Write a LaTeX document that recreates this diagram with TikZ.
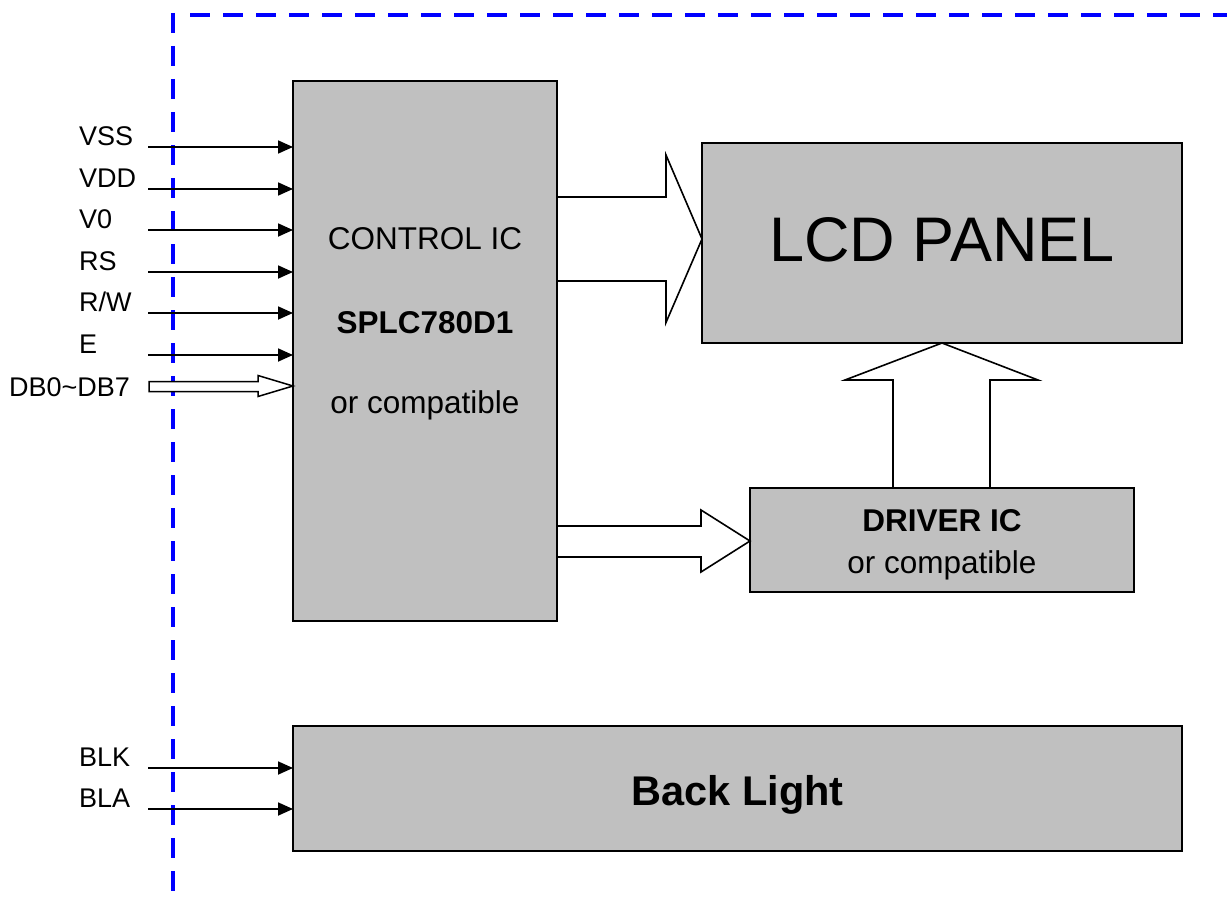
\documentclass[tikz,border=0pt]{standalone}
\usepackage{fontspec}
\setmainfont{Liberation Sans}
\usetikzlibrary{arrows.meta}
\begin{document}
\begin{tikzpicture}[x=1pt,y=-1pt,
  blk/.style={draw=black,line width=2pt,fill=boxgray,outer sep=0pt,inner sep=0pt,anchor=north west},
  sig/.style={line width=1.8pt,-{Triangle[length=15pt,width=13pt]}},
  fat/.style={draw=black,line width=1.6pt,fill=white,line join=miter},
  lbl/.style={anchor=base west,inner sep=0pt,font=\fontsize{27}{30}\selectfont},
  btxt/.style={anchor=base,inner sep=0pt,font=\fontsize{31.5}{34}\selectfont},
  edge/.style={line width=2pt,line cap=rect},
  bound/.style={draw=blue,line width=4pt,dash pattern=on 20pt off 13pt}]
\definecolor{boxgray}{RGB}{192,192,192}
\useasboundingbox (0,0) rectangle (1227,899);
% boundary
\draw[bound] (173,13) -- (173,899);
\draw[bound] (190,15) -- (1227,15);
% boxes
\node[blk,minimum width=264pt,minimum height=540pt] (ctrl) at (293,81) {};
\node[blk,minimum width=480pt,minimum height=200pt] (lcd) at (702,143) {};
\node[blk,minimum width=384pt,minimum height=104pt] (drv) at (750,488) {};
\node[blk,minimum width=889pt,minimum height=125pt] (bl) at (293,726) {};
% texts
\node[btxt] (t1) at (425,249) {CONTROL IC};
\node[btxt,font=\fontsize{31.5}{34}\selectfont\bfseries] (t2) at (425,333) {SPLC780D1};
\node[btxt] (t3) at (425,413) {or compatible};
\node[anchor=base,inner sep=0pt,font=\fontsize{63}{66}\selectfont] (t4) at (942,261) {LCD PANEL};
\node[btxt,font=\fontsize{31.5}{34}\selectfont\bfseries] (t5) at (942,531.5) {DRIVER IC};
\node[btxt] (t6) at (942,573) {or compatible};
\node[anchor=base,inner sep=0pt,font=\fontsize{41.5}{44}\selectfont\bfseries] (t7) at (737.5,805) {Back Light};
% signal labels and arrows
\foreach \name/\txt/\yy in {vss/VSS/147,vdd/VDD/189,vz/V0/230,rs/RS/272,rw/R\slash W/313,en/E/355,blk/BLK/768,bla/BLA/809}{
  \node[lbl] (l\name) at (79,\yy-1.5) {\txt};
  \coordinate (s\name) at (148,\yy);
}
\foreach \name in {vss,vdd,vz,rs,rw,en}{
  \draw[sig] (s\name) -- (s\name -| ctrl.west);
}
\foreach \name in {blk,bla}{
  \draw[sig] (s\name) -- (s\name -| bl.west);
}
\node[lbl] (ldb) at (9,396) {DB0\char`~DB7};
% hollow bus arrow DB0~DB7
\draw[fat,line width=1.5pt] (149,381.5) -- (258,381.5) -- (258,375.5) -- (293,386) -- (258,396.5) -- (258,391.5) -- (149,391.5) -- cycle;
% control -> LCD
\draw[fat] (557,197) -- (666,197) -- (666,155) -- (702,239) -- (666,322.5) -- (666,281) -- (557,281);
% control -> driver
\draw[fat] (557,526) -- (701,526) -- (701,510) -- (750,541) -- (701,572) -- (701,557) -- (557,557);
% driver -> LCD
\draw[fat] (893,488) -- (893,380) -- (845,380) -- (942,343) -- (1038,380) -- (990,380) -- (990,488);
% redraw box borders over arrow ends
\draw[edge] (ctrl.north east) -- (ctrl.south east);
\draw[edge] (lcd.south west) -- (lcd.south east);
\draw[edge] (lcd.north west) -- (lcd.south west);
\draw[edge] (drv.north west) -- (drv.north east);
\draw[edge] (drv.north west) -- (drv.south west);
\end{tikzpicture}
\end{document}
